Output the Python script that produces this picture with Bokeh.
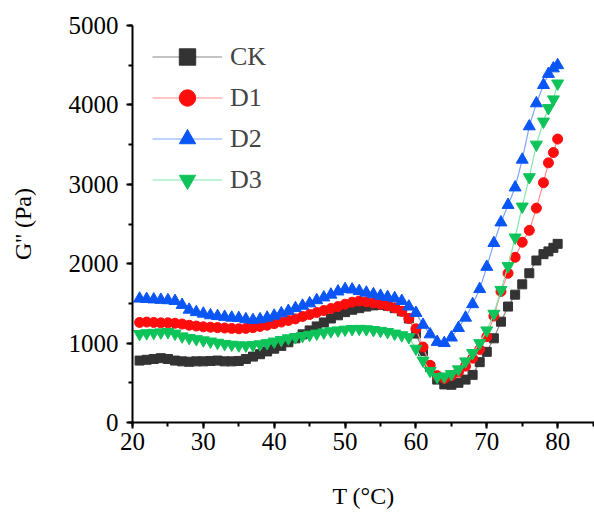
from bokeh.plotting import figure
from bokeh.models import Range1d, SingleIntervalTicker
from bokeh.embed import file_html
from bokeh.resources import INLINE

# Temperature (°C)
T = [21, 22, 23, 24, 25, 26, 27, 28, 29, 30,
     31, 32, 33, 34, 35, 36, 37, 38, 39, 40,
     41, 42, 43, 44, 45, 46, 47, 48, 49, 50,
     51, 52, 53, 54, 55, 56, 57, 58, 59, 60,
     61, 62, 63, 64, 65, 66, 67, 68, 69, 70,
     71, 72, 73, 74, 75, 76, 77, 78, 78.7, 79.4, 80]

# G'' (Pa)
CK = [780, 790, 800, 810, 800, 780, 770, 765, 770, 770,
      775, 780, 770, 770, 775, 800, 830, 860, 895, 930,
      965, 1010, 1060, 1110, 1160, 1210, 1260, 1310, 1350, 1390,
      1420, 1440, 1460, 1475, 1480, 1470, 1440, 1400, 1310, 1120,
      900, 700, 540, 480, 475, 500, 540, 600, 760, 890,
      1060, 1270, 1460, 1610, 1740, 1880, 2040, 2120, 2155, 2200, 2250]

D1 = [1260, 1265, 1260, 1255, 1255, 1250, 1240, 1225, 1215, 1205,
      1200, 1195, 1190, 1185, 1180, 1185, 1195, 1210, 1225, 1245,
      1265, 1285, 1305, 1335, 1360, 1385, 1410, 1435, 1460, 1490,
      1515, 1530, 1520, 1505, 1490, 1470, 1445, 1400, 1310, 1180,
      950, 720, 590, 555, 590, 635, 710, 810, 920, 1080,
      1340, 1650, 1880, 2080, 2270, 2420, 2700, 3020, 3270, 3400, 3570]

D2 = [1560, 1555, 1550, 1545, 1540, 1530, 1480, 1420, 1390, 1370,
      1350, 1340, 1330, 1320, 1315, 1300, 1290, 1300, 1320, 1345,
      1375, 1405, 1440, 1470, 1500, 1540, 1575, 1610, 1650, 1680,
      1675, 1655, 1635, 1615, 1595, 1580, 1565, 1530, 1460, 1380,
      1230, 1110, 1015, 1000, 1070, 1190, 1320, 1490, 1680, 1960,
      2260, 2520, 2740, 2960, 3310, 3730, 4020, 4250, 4390, 4460, 4500]

D3 = [1115, 1125, 1130, 1135, 1140, 1120, 1085, 1065, 1050, 1035,
      1020, 1005, 990, 980, 972, 970, 975, 985, 1000, 1020,
      1040, 1060, 1075, 1090, 1105, 1120, 1135, 1150, 1160, 1170,
      1178, 1180, 1175, 1165, 1155, 1140, 1120, 1100, 1075, 930,
      780, 650, 575, 580, 610, 670, 770, 875, 1000, 1160,
      1370, 1670, 1970, 2330, 2720, 3090, 3500, 3790, 3960, 4070, 4270]

x_ticks_interval = 10
y_ticks_interval = 1000

FONT = "Liberation Serif"

p = figure(width=594, height=512, output_backend="svg", toolbar_location=None,
           x_range=Range1d(20, 85.2), y_range=Range1d(0, 5000),
           min_border_left=132, min_border_right=0, min_border_top=25,
           min_border_bottom=90)
p.outline_line_color = None
p.xgrid.visible = False
p.ygrid.visible = False

series = [
    ("CK", CK, "square", "#333333", "#8a8a8a", 9),
    ("D1", D1, "circle", "#ff0d0d", "#ff8c8c", 10),
    ("D2", D2, "triangle", "#0a55f5", "#7aa5ff", 12),
    ("D3", D3, "inverted_triangle", "#0ec45a", "#86e6ad", 12),
]
for name, ys, marker, mcol, lcol, size in series:
    p.line(T, ys, line_color=lcol, line_width=1.2, legend_label=name)
    p.scatter(T, ys, marker=marker, size=size, fill_color=mcol,
              line_color=mcol, legend_label=name)

p.xaxis.ticker = SingleIntervalTicker(interval=x_ticks_interval, num_minor_ticks=2)
p.yaxis.ticker = SingleIntervalTicker(interval=y_ticks_interval, num_minor_ticks=2)

for ax in (p.xaxis, p.yaxis):
    ax.axis_line_width = 2
    ax.axis_line_color = "black"
    ax.major_tick_line_width = 2
    ax.minor_tick_line_width = 2
    ax.major_tick_in = 0
    ax.major_tick_out = 6
    ax.minor_tick_in = 0
    ax.minor_tick_out = 4
    ax.major_label_text_font = FONT
    ax.major_label_text_font_size = "25px"
    ax.major_label_text_color = "black"
    ax.axis_label_text_font = FONT
    ax.axis_label_text_font_style = "normal"
    ax.axis_label_text_font_size = "24px"
    ax.axis_label_text_color = "black"

p.xaxis.axis_label = "T (°C)"
p.yaxis.axis_label = "G'' (Pa)"
p.xaxis.major_label_standoff = 4
p.yaxis.major_label_standoff = 8
p.xaxis.axis_label_standoff = 30
p.yaxis.axis_label_standoff = 30

lg = p.legend[0]
lg.location = (20, 222)
lg.glyph_width = 70
lg.glyph_height = 41
lg.spacing = 0
lg.padding = 0
lg.margin = 0
lg.label_standoff = 8
lg.border_line_color = None
lg.background_fill_alpha = 0
lg.label_text_font = FONT
lg.label_text_font_size = "26px"
lg.label_height = 41

open("out.html", "w").write(file_html(p, INLINE))
